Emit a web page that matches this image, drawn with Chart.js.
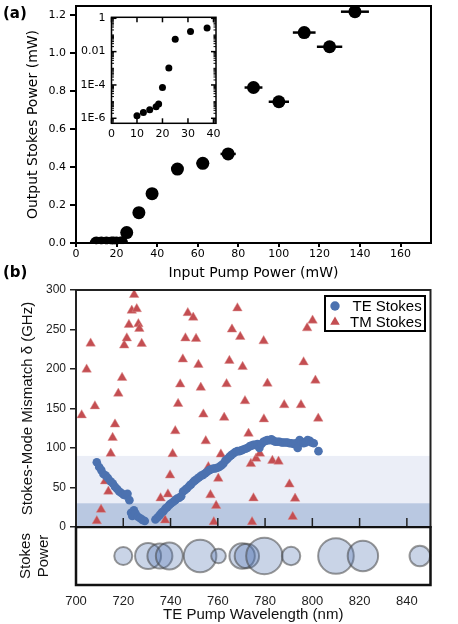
<!DOCTYPE html>
<html><head><meta charset="utf-8">
<script src="https://cdn.jsdelivr.net/npm/chart.js@4.4.1/dist/chart.umd.min.js"></script>
<style>
html,body{margin:0;padding:0;background:#fff;}
#wrap{position:relative;width:458px;height:624px;overflow:hidden;background:#fff;}
canvas{position:absolute;}
.lab{position:absolute;font:bold 15px 'DejaVu Sans';color:#000;line-height:18px;}
</style></head><body>
<div id="wrap">
<canvas id="cA" width="458" height="282" style="left:0;top:0"></canvas>
<canvas id="cI" width="165" height="135" style="left:60px;top:10px"></canvas>
<canvas id="cB" width="458" height="250" style="left:0;top:280px"></canvas>
<canvas id="cC" width="458" height="98" style="left:0;top:526px"></canvas>
<div class="lab" style="left:3px;top:4px">(a)</div>
<div class="lab" style="left:3px;top:263px">(b)</div>
</div>
<script>
// ---------- Panel (a) data ----------
const pumpPower   = [10, 12.5, 15, 17.5, 18.5, 20, 22.5, 25, 31, 37.5, 50, 62.5, 75, 87.5, 100, 112.5, 125, 137.5];
const stokesPower = [1.4e-6, 2.2e-6, 3.2e-6, 5e-6, 7.2e-6, 7e-5, 1.05e-3, 0.055, 0.16, 0.26, 0.39, 0.42, 0.47, 0.82, 0.745, 1.11, 1.035, 1.22];
const pumpErr     = [0.5, 0.6, 0.75, 0.9, 0.95, 1.0, 1.1, 1.25, 1.55, 1.9, 2.5, 3.1, 3.75, 4.4, 5.0, 5.6, 6.25, 6.9];
const xTicksA = [0, 20, 40, 60, 80, 100, 120, 140, 160];
const yTicksA = [0, 0.2, 0.4, 0.6, 0.8, 1.0, 1.2];
const insetXTicks = [0, 10, 20, 30, 40];
const insetYTicks = [1, 0.01, 1e-4, 1e-6];
const insetYLabels = ['1', '0.01', '1E-4', '1E-6'];

// ---------- Panel (b) data ----------
const teWavelength = [708.8,709.8,710.7,711.6,712.6,713.5,714.6,715.6,716.5,717.4,718.3,719.2,720.1,721.0,721.8,722.6,723.3,723.8,724.5,725.2,726.2,727.2,728.1,729.1,
  733.6,734.5,735.4,736.2,737.0,737.8,738.6,739.5,740.3,741.2,742.0,742.8,743.7,744.5,745.3,746.2,747.0,747.9,748.7,749.6,750.4,751.3,752.1,753.0,753.8,754.7,
  755.5,756.4,757.2,758.1,758.9,759.8,760.6,761.5,762.3,763.2,764.0,764.9,765.7,766.6,767.4,768.3,769.1,770.0,770.8,771.7,772.5,773.4,774.2,775.1,775.9,
  776.8,777.6,778.5,779.3,780.2,781.0,781.9,782.7,783.6,784.4,785.3,786.1,787.0,787.8,788.7,789.5,790.4,791.2,792.1,792.9,793.8,794.6,795.5,796.3,797.2,
  798.0,798.9,799.7,800.6,802.6];
const teMismatch = [82,76,72,67,65,62,58,55,51,48,45,43,41,40,42,34,18,14,21,17,13,11,9,7.6,
  9.5,12,15,18,20,23,25,28,30,32,34,36,37,39,45,47,49,52,54,57,59,61,63,65,66,68,
  70,72,73,74,74,75,76,78,80,84,86,89,91,93,95,96,96,97,98,99,100,102,103,104,104,
  105,100,105,108,109,110,110,111,109,108,108,108,107,107,107,107,106,106,105,106,100,110,108,106,107,
  110,109,107,106,96];
const tmWavelength = [702.4,704.5,706.2,708.0,708.8,710.6,712.3,713.7,714.7,715.5,716.5,717.9,719.5,720.4,721.5,722.4,723.6,724.6,725.7,726.4,726.8,727.8,
  735.8,737.7,738.9,739.8,740.9,742.0,743.2,744.1,745.2,746.3,747.3,749.6,750.8,751.8,752.8,753.9,754.9,756.0,756.9,758.3,759.3,760.2,761.3,762.7,763.7,764.9,
  766.0,768.3,769.5,770.5,771.5,773.0,774.0,774.5,775.1,776.2,777.8,779.5,779.4,781.0,783.1,785.7,788.1,790.3,791.7,792.7,795.2,796.3,797.8,800.1,801.3,802.5];
const tmMismatch = [141.6,199.5,232.4,153,7.6,22,58,45,93,113,130,169,189,230,239,256,274,294,276,257,251,232,
  36.5,8.5,41.5,65.5,92.5,121.5,156,180.7,212.3,239,271,265.2,238.3,205.4,176.5,142.6,108.8,76,40.5,6.3,27,61.3,92,138.5,181,210.5,
  250.2,277,240.8,202.8,159.5,118.3,80,6.3,36.5,86.7,93,136.5,235.4,181.7,84,83,154.5,54,13,36,154.5,208.7,251.8,261.5,185.5,137.4];
const bandLimits = [90, 30];
const xTicksB = [700, 720, 740, 760, 780, 800, 820, 840];
const yTicksB = [0, 50, 100, 150, 200, 250, 300];

// ---------- Panel (c) data: bubbles ----------
const bubbleWavelength = [720, 730.5, 735.5, 739.5, 752.5, 760.3, 770.3, 772.3, 779.7, 791, 810, 821.4, 845.5];
const bubbleStokesPower = [9, 13, 12.5, 13.5, 16.3, 7.3, 12.7, 12.2, 18.2, 9.2, 17.8, 15.2, 10.3];

// ---------- helpers ----------
function deco(cfg){
  return {
    id:'deco',
    beforeDatasetsDraw(chart){
      const ctx=chart.ctx, a=chart.chartArea;
      ctx.save();
      if(cfg.bands){ const ys=chart.scales.y; cfg.bands.forEach(b=>{ const y1=ys.getPixelForValue(b.to), y2=ys.getPixelForValue(b.from); ctx.fillStyle=b.color; ctx.fillRect(a.left,y1,a.right-a.left,y2-y1); }); }
      if(cfg.errX){ const xs=chart.scales.x, ys=chart.scales.y; ctx.strokeStyle=cfg.errX.color; ctx.lineWidth=cfg.errX.width;
        chart.data.datasets[0].data.forEach((p,i)=>{ const e=cfg.errX.err[i]; const y=ys.getPixelForValue(p.y);
          ctx.beginPath(); ctx.moveTo(xs.getPixelForValue(p.x-e),y); ctx.lineTo(xs.getPixelForValue(p.x+e),y); ctx.stroke(); }); }
      ctx.restore();
    },
    afterDatasetsDraw(chart){
      const ctx=chart.ctx, a=chart.chartArea;
      ctx.save();
      (cfg.ticks||[]).forEach(t=>{ const sc=chart.scales[t.scale]; ctx.strokeStyle=t.color; ctx.lineWidth=t.width;
        t.values.forEach(v=>{ const p=sc.getPixelForValue(v); t.sides.forEach(s=>{ ctx.beginPath();
          if(s==='bottom'){ctx.moveTo(p,a.bottom);ctx.lineTo(p,a.bottom-t.len);}
          else if(s==='top'){ctx.moveTo(p,a.top);ctx.lineTo(p,a.top+t.len);}
          else if(s==='left'){ctx.moveTo(a.left,p);ctx.lineTo(a.left+t.len,p);}
          else {ctx.moveTo(a.right,p);ctx.lineTo(a.right-t.len,p);}
          ctx.stroke(); }); }); });
      if(cfg.frame){ ctx.strokeStyle=cfg.frame.color; ctx.lineWidth=cfg.frame.width; ctx.strokeRect(a.left,a.top,a.right-a.left,a.bottom-a.top); }
      if(cfg.legend) cfg.legend(chart, ctx);
      ctx.restore();
    }
  };
}
const fixTicks = arr => (s => { s.ticks = arr.map(v => ({value:v})); });
const fitH = h => (s => { s.height = h; s.paddingLeft = 0; s.paddingRight = 0; s.paddingTop = 0; s.paddingBottom = 0; });
const fitW = w => (s => { s.width = w; s.paddingLeft = 0; s.paddingRight = 0; s.paddingTop = 0; s.paddingBottom = 0; });
const base = { responsive:false, animation:false, events:[], plugins:{legend:{display:false}, tooltip:{enabled:false}} };

// ---------- Chart (a) ----------
new Chart(document.getElementById('cA'), {
  type:'scatter',
  data:{datasets:[{data: pumpPower.map((x,i)=>({x, y:stokesPower[i]})), backgroundColor:'#000', borderColor:'#000', borderWidth:0, pointRadius:6.5}]},
  options:{...base,
    layout:{autoPadding:false, padding:{left:0,right:27,top:6,bottom:0}},
    scales:{
      x:{type:'linear', min:0, max:175, afterBuildTicks:fixTicks(xTicksA), afterFit:fitH(39),
        grid:{drawOnChartArea:false, drawTicks:true, tickLength:4, color:'#000', lineWidth:2}, border:{display:false},
        ticks:{padding:1, color:'#000', font:{family:'DejaVu Sans', size:11}, maxRotation:0, autoSkip:false},
        title:{display:true, text:'Input Pump Power (mW)', color:'#000', font:{family:'DejaVu Sans', size:14}, padding:0}},
      y:{type:'linear', min:0, max:1.25, afterBuildTicks:fixTicks(yTicksA), afterFit:fitW(76),
        grid:{drawOnChartArea:false, drawTicks:true, tickLength:6, color:'#000', lineWidth:2}, border:{display:false},
        ticks:{padding:4, color:'#000', font:{family:'DejaVu Sans', size:11}, callback:v=>v.toFixed(1)},
        title:{display:true, text:'Output Stokes Power (mW)', color:'#000', font:{family:'DejaVu Sans', size:14}, padding:{top:24.6,bottom:0}}}
    }
  },
  plugins:[deco({frame:{color:'#000',width:2}, errX:{err:pumpErr, color:'#000', width:2.5}})]
});

// ---------- Inset ----------
const insetPts = [];
pumpPower.forEach((x,i)=>{ if(x <= 40) insetPts.push({x, y:stokesPower[i]}); });
const minorY = [];
for(let k=-7;k<=0;k++){ for(let m=1;m<=9;m++){ const v=m*Math.pow(10,k); if(v>=5e-7 && v<=1.15 && !insetYTicks.some(t=>Math.abs(t-v)/v<1e-6)) minorY.push(v); } }
new Chart(document.getElementById('cI'), {
  type:'scatter',
  data:{datasets:[{data:insetPts, backgroundColor:'#000', borderWidth:0, pointRadius:3.5}]},
  options:{...base,
    layout:{autoPadding:false, padding:{left:0,right:9,top:7.3,bottom:0}},
    scales:{
      x:{type:'linear', min:0, max:41, afterBuildTicks:fixTicks(insetXTicks), afterFit:fitH(21.7),
        grid:{display:false, drawTicks:false}, border:{display:false},
        ticks:{padding:4, color:'#000', font:{family:'DejaVu Sans', size:11}, maxRotation:0, autoSkip:false}},
      y:{type:'logarithmic', min:5e-7, max:1.15, afterBuildTicks:fixTicks(insetYTicks), afterFit:fitW(51.5),
        grid:{display:false, drawTicks:false}, border:{display:false},
        ticks:{padding:6, color:'#000', font:{family:'DejaVu Sans', size:11}, autoSkip:false, callback:(v,i)=>insetYLabels[i]}}
    }
  },
  plugins:[deco({frame:{color:'#000',width:1.5}, ticks:[
    {scale:'x', values:insetXTicks, sides:['bottom','top'], len:5, color:'#000', width:1.5},
    {scale:'y', values:insetYTicks, sides:['left','right'], len:5, color:'#000', width:1.5},
    {scale:'y', values:minorY, sides:['left','right'], len:2.5, color:'#000', width:1}
  ]})]
});

// ---------- Chart (b) ----------
function drawLegend(chart, ctx){
  const a=chart.chartArea;
  const x0=a.right-105.5, y0=a.top+6, w=100, h=35;
  ctx.fillStyle='#fff'; ctx.fillRect(x0,y0,w,h);
  ctx.strokeStyle='#000'; ctx.lineWidth=2; ctx.strokeRect(x0,y0,w,h);
  ctx.font="15px 'Liberation Sans'"; ctx.textAlign='right'; ctx.textBaseline='middle';
  chart.data.datasets.forEach((ds,i)=>{
    const cy=y0+10+i*16, cx=x0+10;
    ctx.fillStyle=ds.backgroundColor; ctx.beginPath();
    if(ds.pointStyle==='triangle'){ const r=5.5; ctx.moveTo(cx,cy-r); ctx.lineTo(cx+r*0.866,cy+r*0.5); ctx.lineTo(cx-r*0.866,cy+r*0.5); ctx.closePath(); }
    else { ctx.arc(cx,cy,4.7,0,Math.PI*2); }
    ctx.fill();
    ctx.fillStyle='#000'; ctx.fillText(ds.label, x0+96.7, cy+0.5);
  });
}
new Chart(document.getElementById('cB'), {
  type:'scatter',
  data:{datasets:[
    {label:'TE Stokes', data:teWavelength.map((x,i)=>({x, y:teMismatch[i]})), pointStyle:'circle', backgroundColor:'#4C72B0', borderWidth:0, pointRadius:4.3},
    {label:'TM Stokes', data:tmWavelength.map((x,i)=>({x, y:tmMismatch[i]})), pointStyle:'triangle', backgroundColor:'#C44E52', borderColor:'rgba(220,140,140,0.8)', borderWidth:0.6, pointRadius:5.5}
  ]},
  options:{...base,
    layout:{autoPadding:false, padding:{left:0,right:27.5,top:10,bottom:0}},
    scales:{
      x:{type:'linear', min:700, max:850, afterBuildTicks:fixTicks(xTicksB), afterFit:fitH(3),
        grid:{display:false, drawTicks:false}, border:{display:false}, ticks:{display:false}},
      y:{type:'linear', min:0, max:300, afterBuildTicks:fixTicks(yTicksB), afterFit:fitW(76),
        grid:{drawOnChartArea:false, drawTicks:true, tickLength:6, color:'#222', lineWidth:1.5}, border:{display:false},
        ticks:{padding:4, color:'#222', font:{family:'Liberation Sans', size:12}},
        title:{display:true, text:'Stokes-Mode Mismatch δ (GHz)', color:'#111', font:{family:'Liberation Sans', size:15}, padding:{top:19,bottom:0}}}
    }
  },
  plugins:[deco({
    bands:[{from:0,to:bandLimits[0],color:'#ebeef7'},{from:0,to:bandLimits[1],color:'#b9c8e1'}],
    ticks:[{scale:'x', values:xTicksB.slice(1), sides:['bottom'], len:9, color:'#222', width:1.5}],
    frame:{color:'#222',width:2}, legend:drawLegend})]
});

// ---------- Chart (c) bubbles ----------
new Chart(document.getElementById('cC'), {
  type:'bubble',
  data:{datasets:[{data:bubbleWavelength.map((x,i)=>({x, y:0, r:bubbleStokesPower[i]})),
    backgroundColor:'rgba(76,114,176,0.3)', borderColor:'rgba(70,70,70,0.55)', borderWidth:2, clip:false}]},
  options:{...base,
    layout:{autoPadding:false, padding:{left:0,right:27.5,top:1,bottom:0}},
    scales:{
      x:{type:'linear', min:700, max:850, afterBuildTicks:fixTicks(xTicksB), afterFit:fitH(39),
        grid:{display:false, drawTicks:false}, border:{display:false},
        ticks:{padding:9, color:'#222', font:{family:'Liberation Sans', size:13}, maxRotation:0, autoSkip:false},
        title:{display:true, text:'TE Pump Wavelength (nm)', color:'#111', font:{family:'Liberation Sans', size:15}, padding:0}},
      y:{type:'linear', min:-1, max:1, afterFit:fitW(76),
        grid:{display:false, drawTicks:false}, border:{display:false}, ticks:{display:false},
        title:{display:true, text:['Stokes','Power'], color:'#111', font:{family:'Liberation Sans', size:15}, padding:{top:16.5,bottom:0}}}
    }
  },
  plugins:[deco({frame:{color:'#111',width:2.5}})]
});
</script>
</body></html>
